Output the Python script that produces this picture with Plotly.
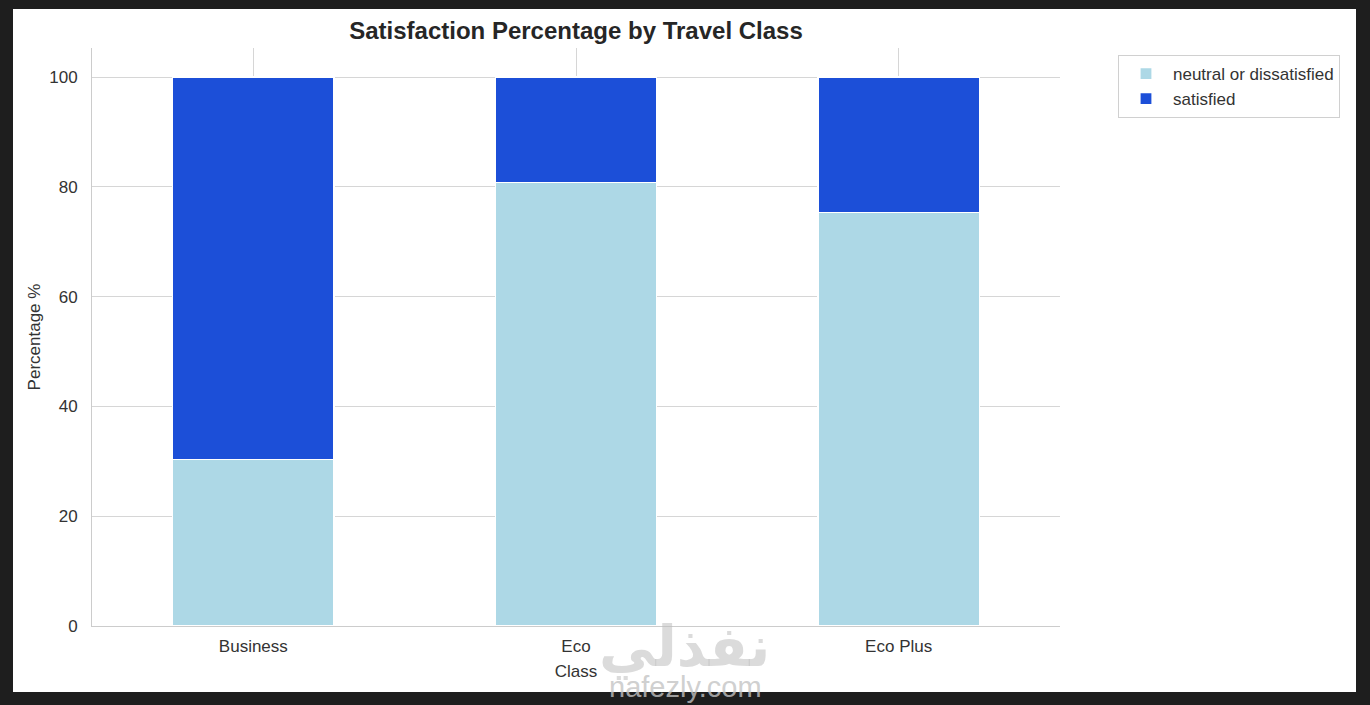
import plotly.graph_objects as go

# data
classes = ["Business", "Eco", "Eco Plus"]
neutral_pct = [30.4, 80.8, 75.3]
satisfied_pct = [69.6, 19.2, 24.7]

W, H = 1370, 705
L, R, T, B = 92, 1060, 48, 626
pw, ph = R - L, B - T


def px_x(x):
    return (x - L) / pw


def px_y(y):
    return (B - y) / ph


fig = go.Figure()
fig.add_trace(go.Bar(x=classes, y=neutral_pct, name="neutral or dissatisfied",
                     marker=dict(color="#add8e6", line=dict(color="white", width=1.2)),
                     width=0.5))
fig.add_trace(go.Bar(x=classes, y=satisfied_pct, name="satisfied",
                     marker=dict(color="#1c4fd8", line=dict(color="white", width=1.2)),
                     width=0.5))

# white canvas on a dark frame
fig.add_shape(type="rect", xref="paper", yref="paper", layer="below",
              x0=px_x(13), x1=px_x(1356), y0=px_y(692), y1=px_y(9),
              fillcolor="white", line=dict(width=0))

# watermark
fig.add_annotation(text="<b>نفذلي</b>", xref="paper", yref="paper",
                   x=px_x(684), y=px_y(647), yanchor="middle", showarrow=False,
                   font=dict(family="DejaVu Sans", size=56, color="rgba(190,190,190,0.55)"))
fig.add_annotation(text="nafezly.com", xref="paper", yref="paper",
                   x=px_x(685), y=px_y(687), yanchor="middle", showarrow=False,
                   font=dict(family="Liberation Sans", size=29, color="rgba(195,195,195,0.8)"))

fig.update_layout(
    barmode="stack",
    width=W, height=H,
    margin=dict(l=L, r=W - R, t=T, b=H - B, pad=0),
    paper_bgcolor="#1e1e1e",
    plot_bgcolor="white",
    font=dict(family="Liberation Sans", size=17, color="#333333"),
    title=dict(text="<b>Satisfaction Percentage by Travel Class</b>",
               x=0.5, xref="paper", xanchor="center",
               y=1 - 31 / H, yref="container", yanchor="middle",
               font=dict(size=24, color="#262626")),
    legend=dict(x=px_x(1118), y=px_y(55), xanchor="left", yanchor="top",
                bgcolor="white", bordercolor="#d0d0d0", borderwidth=1,
                font=dict(size=17, color="#333333"), traceorder="normal",
                itemwidth=44),
    bargap=0.5,
)
fig.update_xaxes(range=[-0.5, 2.5], showgrid=True, gridcolor="#d6d6d6", gridwidth=1,
                 showline=True, linecolor="#cccccc", linewidth=1, ticks="",
                 ticklabelstandoff=5,
                 title=dict(text="Class", standoff=9, font=dict(size=17)),
                 tickfont=dict(size=17))
fig.update_yaxes(range=[0, 105.3], tickvals=[0, 20, 40, 60, 80, 100],
                 showgrid=True, gridcolor="#d6d6d6", gridwidth=1, zeroline=False,
                 showline=True, linecolor="#cccccc", linewidth=1, ticks="",
                 ticklabelstandoff=10,
                 title=dict(text="Percentage %", standoff=4, font=dict(size=17)),
                 tickfont=dict(size=17))

fig.write_html("out.html", config={"displayModeBar": False},
               post_script="document.body.style.margin='0';"
                           "document.body.style.background='#1e1e1e';")
